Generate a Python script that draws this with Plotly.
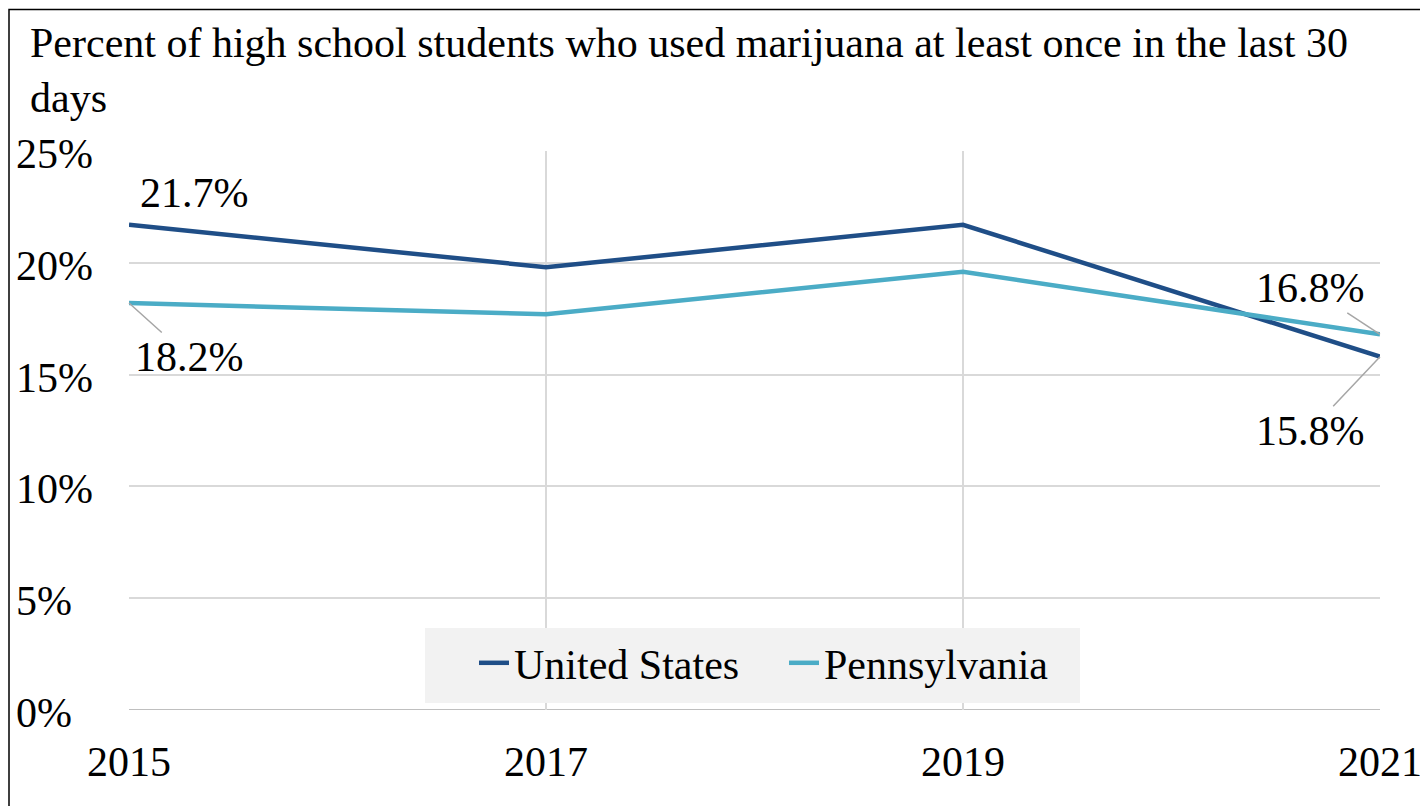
import plotly.graph_objects as go

years = [2015, 2017, 2019, 2021]
us_values = [21.7, 19.8, 21.7, 15.8]
pa_values = [18.2, 17.7, 19.6, 16.8]
y_ticks = [0, 5, 10, 15, 20, 25]
y_tick_labels = ["0%", "5%", "10%", "15%", "20%", "25%"]
title_text = "Percent of high school students who used marijuana at least once in the last 30<br>days"

FONT = "Liberation Serif"
W, H = 1428, 806
OFF = 8  # page body margin
PL, PR, PT, PB = 129, 1380, 151, 710  # plot box in page pixels
L, T = PL - OFF, PT - OFF
R, B = W - (PR - OFF), H - (PB - OFF)
PW, PH = PR - PL, PB - PT

def px_x(p):
    return (p - PL) / PW

def px_y(p):
    return (PB - p) / PH

fig = go.Figure()
fig.add_trace(go.Scatter(x=years, y=us_values, mode="lines", name="United States",
                         line=dict(color="#1f4e87", width=4.5)))
fig.add_trace(go.Scatter(x=years, y=pa_values, mode="lines", name="Pennsylvania",
                         line=dict(color="#4bacc6", width=4.5)))

annotations = []
for v, t in zip(y_ticks, y_tick_labels):
    annotations.append(dict(x=px_x(14), xref="paper", y=v, yref="y", text=t,
                            showarrow=False, xanchor="left", yanchor="middle", yshift=-3,
                            font=dict(family=FONT, size=42, color="#000")))

lab_font = dict(family=FONT, size=42, color="#000")
annotations.append(dict(x=years[0], y=us_values[0], xref="x", yref="y",
                        text=f"{us_values[0]:.1f}%", showarrow=True, arrowcolor="rgba(0,0,0,0)",
                        ax=65, ay=-32, font=lab_font))
annotations.append(dict(x=years[0], y=pa_values[0], xref="x", yref="y",
                        text=f"{pa_values[0]:.1f}%", showarrow=True, arrowhead=0, arrowwidth=1.5,
                        arrowcolor="#a6a6a6", ax=60, ay=54, font=lab_font))
annotations.append(dict(x=years[-1], y=pa_values[-1], xref="x", yref="y",
                        text=f"{pa_values[-1]:.1f}%", showarrow=True, arrowhead=0, arrowwidth=1.5,
                        arrowcolor="#a6a6a6", ax=-70, ay=-46, font=lab_font))
annotations.append(dict(x=years[-1], y=us_values[-1], xref="x", yref="y",
                        text=f"{us_values[-1]:.1f}%", showarrow=True, arrowhead=0, arrowwidth=1.5,
                        arrowcolor="#a6a6a6", ax=-70, ay=74, font=lab_font))

fig.update_layout(
    width=W, height=H,
    margin=dict(l=L, r=R, t=T, b=B, autoexpand=False),
    paper_bgcolor="white", plot_bgcolor="white",
    title=dict(text=title_text, x=(30 - OFF) / W, xanchor="left",
               y=1 - (57 - OFF) / H, yanchor="top",
               font=dict(family=FONT, size=42, color="#000")),
    xaxis=dict(range=[2015, 2021], tickvals=years, ticktext=[str(y) for y in years],
               showgrid=True, gridcolor="#d9d9d9", gridwidth=2, zeroline=False,
               showline=False, ticks="", ticklabelstandoff=23,
               tickfont=dict(family=FONT, size=42, color="#000")),
    yaxis=dict(range=[0, 25], tickvals=y_ticks, showticklabels=False,
               showgrid=True, gridcolor="#d9d9d9", gridwidth=2, zeroline=False,
               showline=False),
    showlegend=True,
    legend=dict(orientation="h", x=px_x(474), xanchor="left",
                y=px_y(629), yanchor="top",
                bgcolor="rgba(0,0,0,0)", borderwidth=0,
                font=dict(family=FONT, size=42, color="#000"),
                itemwidth=30, tracegroupgap=0,
                entrywidth=265, entrywidthmode="pixels"),
    annotations=annotations,
    shapes=[
        dict(type="line", xref="paper", yref="y", x0=0, x1=1, y0=0, y1=0,
             line=dict(color="#bfbfbf", width=2), layer="below"),
        dict(type="rect", xref="paper", yref="paper",
             x0=px_x(425), x1=px_x(1080), y0=px_y(703), y1=px_y(628),
             line=dict(width=0), fillcolor="#f2f2f2", layer="above"),
        dict(type="rect", xref="paper", yref="paper",
             x0=px_x(9), x1=px_x(W + 40), y0=px_y(H + 40), y1=px_y(9.5),
             line=dict(color="#000", width=1.5), fillcolor="rgba(0,0,0,0)"),
    ],
)

fig.write_html("out.html")
